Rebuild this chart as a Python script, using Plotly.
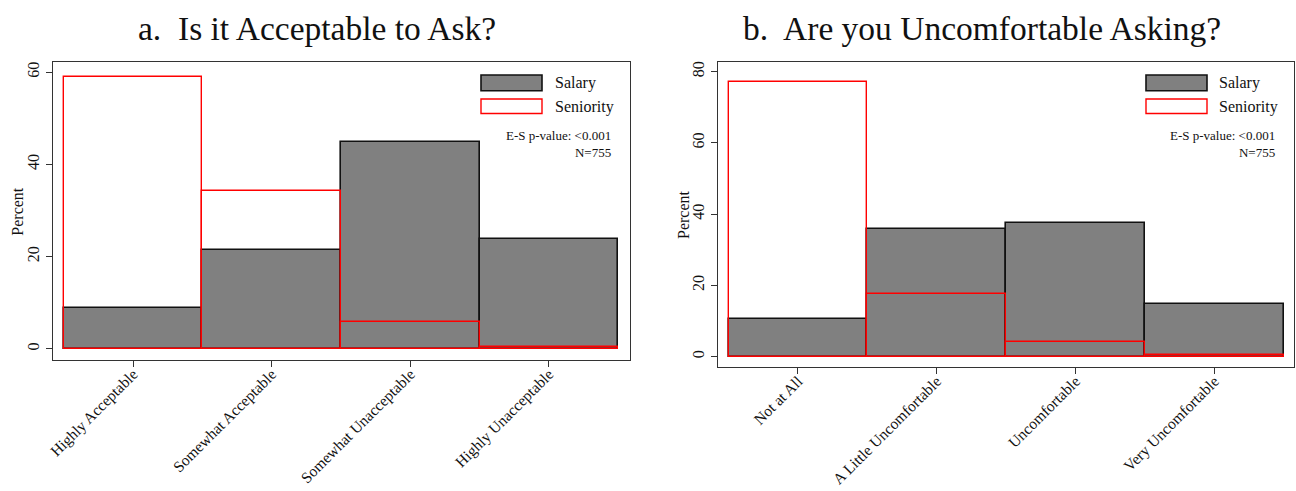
import plotly.graph_objects as go

# Survey responses (percent of respondents)
accept_labels = ["Highly Acceptable", "Somewhat Acceptable",
                 "Somewhat Unacceptable", "Highly Unacceptable"]
accept_salary = [8.8, 21.5, 44.9, 23.9]
accept_seniority = [58.9, 34.2, 5.9, 0.4]

uncomf_labels = ["Not at All", "A Little Uncomfortable",
                 "Uncomfortable", "Very Uncomfortable"]
uncomf_salary = [10.7, 35.8, 37.6, 14.9]
uncomf_seniority = [77.0, 17.7, 4.0, 0.4]

positions = [1, 2, 3, 4]
stats_text = "E-S p-value: <0.001<br>N=755"

W, H = 1296, 491
SERIF = "Liberation Serif, Times New Roman, serif"
FRAME = "#333333"
GRAY = "#808080"
RED = "#ff0000"


def px(x):
    return x / W


def py(y):
    return 1 - y / H


fig = go.Figure()

panels = [
    ("x", "y", accept_salary, accept_seniority),
    ("x2", "y2", uncomf_salary, uncomf_seniority),
]
for xa, ya, sal, sen in panels:
    fig.add_trace(go.Bar(
        x=positions, y=sal, width=1, xaxis=xa, yaxis=ya,
        marker=dict(color=GRAY, line=dict(color="#111111", width=1.6)),
        name="Salary", showlegend=False,
    ))
    fig.add_trace(go.Bar(
        x=positions, y=sen, width=1, xaxis=xa, yaxis=ya,
        marker=dict(color="rgba(0,0,0,0)", line=dict(color=RED, width=1.4)),
        name="Seniority", showlegend=False,
    ))

axis_common = dict(
    showline=True, mirror=True, linecolor=FRAME, linewidth=1.3,
    ticks="outside", ticklen=6, tickcolor=FRAME, tickwidth=1.2,
    showgrid=False, zeroline=False, automargin=False,
    tickfont=dict(family=SERIF, size=16, color="#111111"),
)
x_common = dict(axis_common, tickangle=-45, ticklabelstandoff=-8,
                tickvals=positions,
                tickfont=dict(family=SERIF, size=15.5, color="#111111"))

fig.update_layout(
    width=W, height=H,
    margin=dict(l=0, r=0, t=0, b=0),
    paper_bgcolor="white", plot_bgcolor="white",
    barmode="overlay", bargap=0,
    xaxis=dict(x_common, domain=[px(53), px(630)], range=[0.422, 4.585],
               ticktext=accept_labels, anchor="y"),
    yaxis=dict(axis_common, domain=[py(360), py(62)], range=[-2.4, 62.2],
               tickvals=[0, 20, 40, 60], tickangle=-90, anchor="x"),
    xaxis2=dict(x_common, domain=[px(718), px(1294)], range=[0.424, 4.574],
                ticktext=uncomf_labels, anchor="y2"),
    yaxis2=dict(axis_common, domain=[py(367), py(62)], range=[-2.9, 82.7],
                tickvals=[0, 20, 40, 60, 80], tickangle=-90, anchor="x2"),
)

annotations = []
shapes = []

# Panel titles
for text, cx in [("a.  Is it Acceptable to Ask?", 316.5),
                 ("b.  Are you Uncomfortable Asking?", 982)]:
    annotations.append(dict(
        text=text, x=px(cx), y=py(28), xref="paper", yref="paper",
        xanchor="center", yanchor="middle", showarrow=False,
        font=dict(family=SERIF, size=33.5, color="#111111"),
    ))

# Y-axis titles
for cx, cy in [(16.7, 211), (683, 214)]:
    annotations.append(dict(
        text="Percent", x=px(cx), y=py(cy), xref="paper", yref="paper",
        xanchor="center", yanchor="middle", showarrow=False, textangle=-90,
        font=dict(family=SERIF, size=16, color="#111111"),
    ))

# Legend keys, labels and test statistics for each panel
for sw_l, sw_r, txt_x, stat_x in [(481, 542, 553, 612.7),
                                  (1146, 1207, 1217, 1277)]:
    shapes.append(dict(
        type="rect", xref="paper", yref="paper",
        x0=px(sw_l), x1=px(sw_r), y0=py(90.7), y1=py(75),
        fillcolor=GRAY, line=dict(color="#111111", width=1.6),
    ))
    shapes.append(dict(
        type="rect", xref="paper", yref="paper",
        x0=px(sw_l), x1=px(sw_r), y0=py(113.5), y1=py(99),
        fillcolor="white", line=dict(color=RED, width=1.4),
    ))
    for label, cy in [("Salary", 83), ("Seniority", 106.5)]:
        annotations.append(dict(
            text=label, x=px(txt_x), y=py(cy), xref="paper", yref="paper",
            xanchor="left", yanchor="middle", showarrow=False,
            font=dict(family=SERIF, size=16, color="#111111"),
        ))
    annotations.append(dict(
        text=stats_text, x=px(stat_x), y=py(144), xref="paper", yref="paper",
        xanchor="right", yanchor="middle", align="right", showarrow=False,
        font=dict(family=SERIF, size=13, color="#111111"),
    ))

fig.update_layout(annotations=annotations, shapes=shapes)

fig.write_html("out.html")
